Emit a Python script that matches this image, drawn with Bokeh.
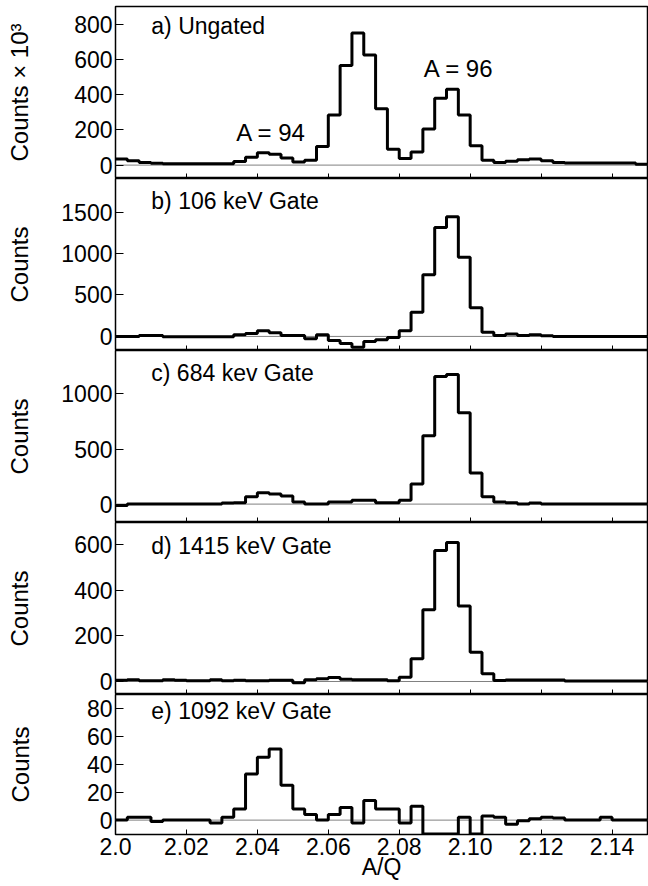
import numpy as np
from bokeh.plotting import figure
from bokeh.layouts import column
from bokeh.models import (Range1d, FixedTicker, CustomJSTickFormatter, Span, Label,
                          CustomLabelingPolicy)
from bokeh.embed import file_html
from bokeh.resources import INLINE

# ---------------- data ----------------
bin_width = 1.0 / 300.0
n_bins = 45
bin_edges = 2.0 + np.arange(n_bins + 1) * bin_width   # A/Q bin edges

x_ticks = [2.0, 2.02, 2.04, 2.06, 2.08, 2.10, 2.12, 2.14]

counts_ungated = [34, 25, 15, 10, 8, 8, 8, 8, 8, 8,
                  20, 45, 70, 62, 40, 18, 28,
                  105, 285, 565, 750, 625, 320, 90,
                  37, 75, 205, 380, 430, 285, 110,
                  28, 15, 22, 30, 34, 25, 15,
                  12, 12, 12, 12, 12, 12, 5]          # x 10^3

counts_106 = [0, 0, 10, 10, -5, -5, -5, -5, -5, -5,
              20, 35, 68, 45, 12, 12, -28,
              20, -48, -85, -130, -60, -40, -12,
              68, 290, 745, 1315, 1445, 955, 345,
              50, 12, 28, 12, 20, 8,
              0, 0, 0, 0, 0, 0, 0, 0]

counts_684 = [-12, 0, 0, 0, 0, 0, 0, 0, 0,
              9, 12, 67, 103, 91, 73, 18, 0, 0, 18, 18, 36, 36, 12, 12, 36,
              182, 621, 1158, 1176, 830, 282, 67, 18, 12, 0, 9,
              0, 0, 0, 0, 0, 0, 0, 0, 0]

counts_1415 = [5, 8, 3, 3, 8, 5, 3, 3, 8, 3, 6, 3, 3, 6, 6, -5, 8, 12, 18, 10, 8, 8, 8,
               3, 19, 100, 314, 574, 609, 331, 128, 34,
               4, 7, 7, 7, 7, 7,
               2, 2, 2, 2, 2, 2, 2]

counts_1092 = [0, 2, 2, -1, 0, 0, 0, 0, -2, 2,
               8, 33, 45, 51, 25, 8, 4, 0, 4, 9,
               -2, 14, 8, 8, -2, 10, -10, -10, -10, 2,
               -10, 3, 2, -3, -0.5, 1, 2, 1.5, 0, 0,
               0, 2, 0, 0, 0]

y_ticks_a = [0, 200, 400, 600, 800]
y_ticks_b = [0, 500, 1000, 1500]
y_ticks_c = [0, 500, 1000]
y_ticks_d = [0, 200, 400, 600]
y_ticks_e = [0, 20, 40, 60, 80]

panel_titles = ["a) Ungated", "b) 106 keV Gate", "c) 684 kev Gate",
                "d) 1415 keV Gate", "e) 1092 keV Gate"]
y_labels = ["Counts \u00d7 10\u00b3", "Counts", "Counts", "Counts", "Counts"]

FONT = "Liberation Sans"
xr = Range1d(2.0, 2.15)


def make_panel(counts, yr, yticks, ylabel, title, title_y, fh, lab_standoff,
               first=False, last=False):
    p = figure(frame_width=532, frame_height=fh, x_range=xr, y_range=Range1d(*yr),
               output_backend="svg", toolbar_location=None,
               min_border_left=115, min_border_right=1,
               min_border_top=6 if first else 0, min_border_bottom=0)
    p.grid.visible = False
    p.outline_line_color = "black"
    p.outline_line_width = 1.5
    p.background_fill_color = "white"
    p.border_fill_color = "white"

    xa = p.xaxis[0]
    xa.ticker = FixedTicker(ticks=x_ticks)
    xa.formatter = CustomJSTickFormatter(code="return tick < 2.001 ? '2.0' : tick.toFixed(2);")
    xa.major_tick_in = 5
    xa.major_tick_out = 0
    xa.minor_tick_line_color = None
    xa.axis_line_color = None
    xa.major_tick_line_color = "black"
    if last:
        xa.major_label_text_font = FONT
        xa.major_label_text_font_size = "23px"
        xa.major_label_text_color = "black"
        xa.major_label_standoff = 3
        xa.axis_label = "A/Q"
        xa.axis_label_text_font = FONT
        xa.axis_label_text_font_size = "23px"
        xa.axis_label_text_font_style = "normal"
        xa.axis_label_text_color = "black"
        xa.axis_label_standoff = -4
    else:
        xa.major_label_text_font_size = "0px"
        xa.major_label_standoff = 0
        xa.major_label_policy = CustomLabelingPolicy(
            code="for (const i of indices) indices.unset(i)")

    ya = p.yaxis[0]
    ya.ticker = FixedTicker(ticks=yticks)
    ya.major_tick_in = 8
    ya.major_tick_out = 0
    ya.minor_tick_line_color = None
    ya.axis_line_color = None
    ya.major_tick_line_color = "black"
    ya.major_label_standoff = 3
    ya.major_label_text_font = FONT
    ya.major_label_text_font_size = "23px"
    ya.major_label_text_color = "black"
    ya.axis_label = ylabel
    ya.axis_label_text_font = FONT
    ya.axis_label_text_font_size = "24px"
    ya.axis_label_text_font_style = "normal"
    ya.axis_label_text_color = "black"
    ya.axis_label_standoff = lab_standoff

    p.add_layout(Span(location=0, dimension="width", line_color="#808080",
                      line_width=1, level="underlay"))

    xs = list(bin_edges)
    ys = list(counts) + [counts[-1]]
    p.step(x=xs, y=ys, mode="after", line_width=3, line_color="black")

    p.add_layout(Label(x=2.0101, y=title_y, text=title, text_font=FONT,
                       text_font_size="23px", text_baseline="middle",
                       text_align="left", text_color="black"))
    return p


pa = make_panel(counts_ungated, (-76, 900), y_ticks_a, y_labels[0], panel_titles[0], 792, 172, 38,
                first=True)
pa.add_layout(Label(x=2.0439, y=187, text="A = 94", text_font=FONT, text_font_size="24px",
                    text_align="center", text_baseline="middle", text_color="black"))
pa.add_layout(Label(x=2.0968, y=550, text="A = 96", text_font=FONT, text_font_size="24px",
                    text_align="center", text_baseline="middle", text_color="black"))
pb = make_panel(counts_106, (-170, 1905), y_ticks_b, y_labels[1], panel_titles[1], 1630, 172, 25)
pc = make_panel(counts_684, (-167, 1394), y_ticks_c, y_labels[2], panel_titles[2], 1191, 172, 25)
pd = make_panel(counts_1415, (-57, 697), y_ticks_d, y_labels[3], panel_titles[3], 595, 172, 38)
pe = make_panel(counts_1092, (-10.3, 90), y_ticks_e, y_labels[4], panel_titles[4], 78, 140, 50,
                last=True)

layout = column(pa, pb, pc, pd, pe, spacing=0)
open("out.html", "w").write(file_html(layout, INLINE))
